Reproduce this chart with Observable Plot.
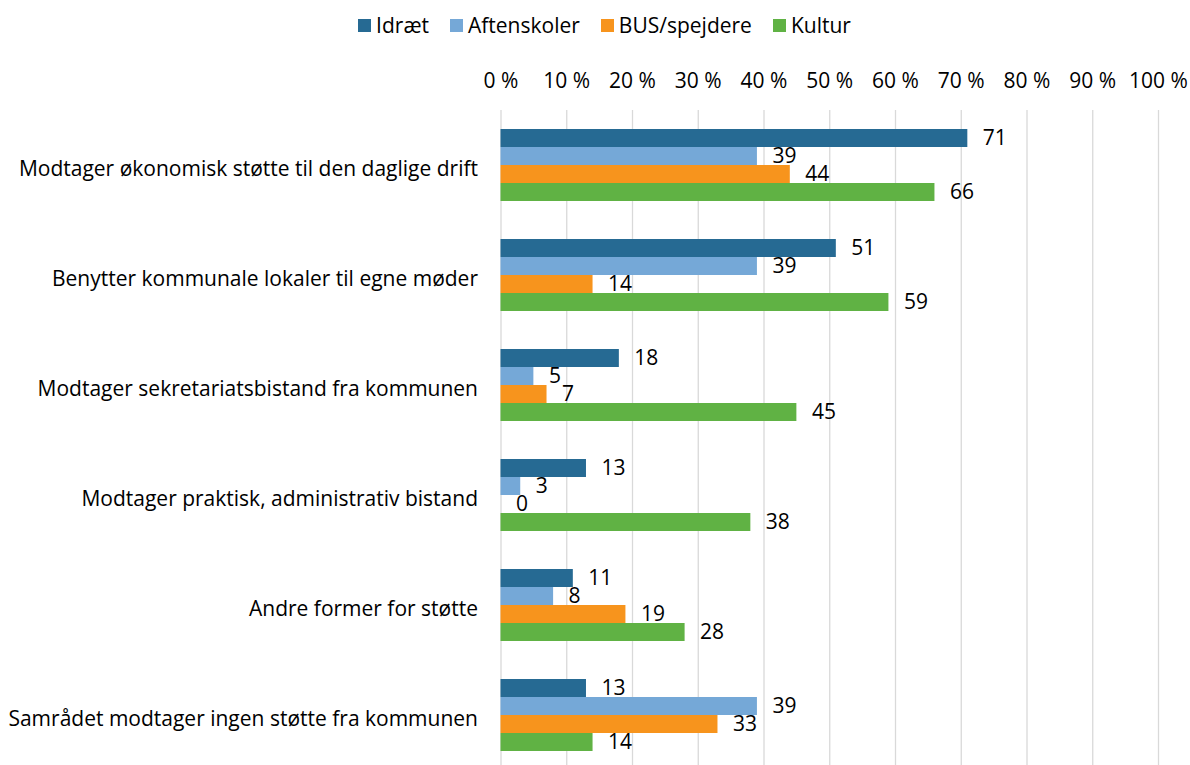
<!DOCTYPE html>
<html><head><meta charset="utf-8">
<script src="https://cdn.jsdelivr.net/npm/d3@7"></script>
<script src="https://cdn.jsdelivr.net/npm/@observablehq/plot@0.6"></script>
<style>
body{margin:0;background:#fff;overflow:hidden;font-family:"Open Sans",sans-serif;}
#legend{height:50px;display:flex;justify-content:center;align-items:center;gap:21px;color:#000;padding-left:19px;box-sizing:border-box}
.item{display:flex;align-items:center;gap:5px}
.sw{width:13px;height:13px;display:inline-block}
</style></head><body>
<div id="legend"></div>
<div id="chart"></div>
<script>
const categories = [
  "Modtager økonomisk støtte til den daglige drift",
  "Benytter kommunale lokaler til egne møder",
  "Modtager sekretariatsbistand fra kommunen",
  "Modtager praktisk, administrativ bistand",
  "Andre former for støtte",
  "Samrådet modtager ingen støtte fra kommunen"
];
const series = ["Idræt", "Aftenskoler", "BUS/spejdere", "Kultur"];
const idraet = [71, 51, 18, 13, 11, 13];
const aftenskoler = [39, 39, 5, 3, 8, 39];
const busSpejdere = [44, 14, 7, 0, 19, 33];
const kultur = [66, 59, 45, 38, 28, 14];
const xTicks = [0, 10, 20, 30, 40, 50, 60, 70, 80, 90, 100];
const colors = ["#266A93", "#75A8D7", "#F7941D", "#60B244"];

// font size chosen so the longest label matches the reference width
const ctx = document.createElement("canvas").getContext("2d");
ctx.font = "100px 'Open Sans'";
const fs = Math.round(100 * 459 / ctx.measureText(categories[0]).width * 10) / 10;

const seriesValues = [idraet, aftenskoler, busSpejdere, kultur];
const data = [];
categories.forEach((c, i) => {
  series.forEach((s, j) => data.push({category: c, series: s, value: seriesValues[j][i]}));
});

const legend = document.getElementById("legend");
legend.style.fontSize = fs + "px";
series.forEach((s, j) => {
  const it = document.createElement("div");
  it.className = "item";
  const sw = document.createElement("span");
  sw.className = "sw";
  sw.style.background = colors[j];
  const t = document.createElement("span");
  t.textContent = s;
  it.appendChild(sw); it.appendChild(t);
  legend.appendChild(it);
});

const chart = Plot.plot({
  width: 1190,
  height: 720,
  marginTop: 60,
  marginBottom: 0,
  marginLeft: 500.5,
  marginRight: 32,
  style: {fontFamily: "'Open Sans', sans-serif", fontSize: fs + "px", color: "#000", background: "#fff"},
  x: {domain: [0, 100], ticks: xTicks, tickFormat: d => d + " %", axis: "top", tickSize: 0, tickPadding: 23, label: null},
  fy: {domain: categories, padding: 0, label: null},
  y: {domain: series, paddingInner: 0, paddingOuter: 0.933, axis: null},
  color: {domain: series, range: colors},
  marks: [
    Plot.gridX(xTicks, {stroke: "#d9d9d9", strokeOpacity: 1, strokeWidth: 1.3}),
    Plot.barX(data, {fy: "category", y: "series", x: "value", fill: "series"}),
    Plot.text(data, {fy: "category", y: "series", x: "value", text: d => String(d.value), textAnchor: "start", dx: 15, fill: "#000", fontSize: fs}),
    Plot.axisFy({anchor: "left", tickSize: 0, tickPadding: 23, dy: 4, label: null, fill: "#000"})
  ]
});
document.getElementById("chart").appendChild(chart);
</script>
</body></html>
